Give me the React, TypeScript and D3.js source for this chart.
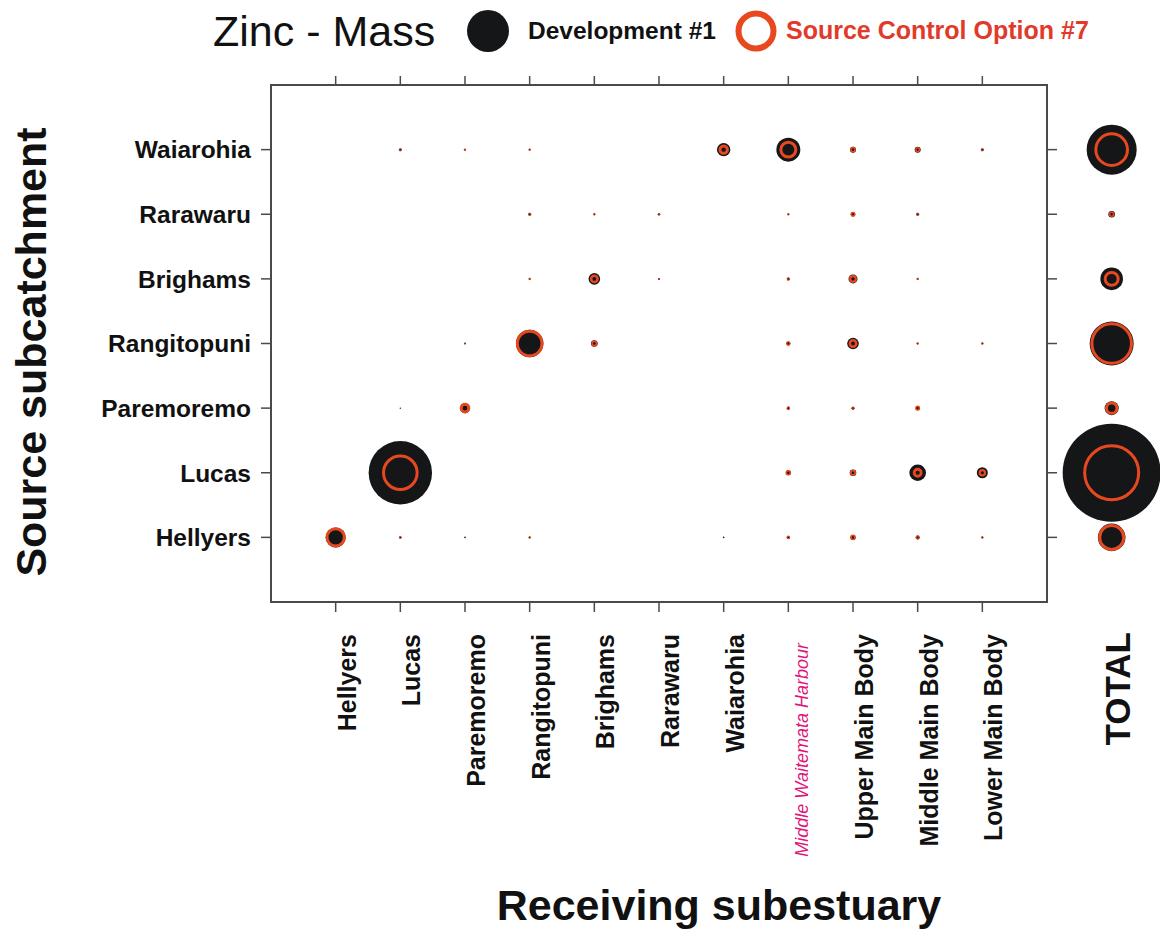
import React from "react";
import * as d3 from "d3";

// Receiving subestuaries (x axis, left to right)
const receiving = [
  "Hellyers",
  "Lucas",
  "Paremoremo",
  "Rangitopuni",
  "Brighams",
  "Rarawaru",
  "Waiarohia",
  "Middle Waitemata Harbour",
  "Upper Main Body",
  "Middle Main Body",
  "Lower Main Body",
];

// Source subcatchments (y axis, bottom to top)
const sources = ["Hellyers", "Lucas", "Paremoremo", "Rangitopuni", "Brighams", "Rarawaru", "Waiarohia"];

// Zinc mass (relative units) – Development #1, per source, across receiving subestuaries
const devHellyers = [100, 1.44, 0.64, 1, 0, 0, 0.64, 2.25, 6.25, 4, 1];
const devLucas = [0, 1005, 0, 0, 0, 0, 0, 6.25, 10.9, 69, 30.25];
const devParemoremo = [0, 0.49, 25, 0, 0, 0, 0, 2.25, 2.25, 4, 0];
const devRangitopuni = [0, 0, 1, 188, 10.9, 0, 0, 4, 33.6, 1, 1];
const devBrighams = [0, 0, 0, 1, 33.6, 1, 0, 2.25, 20.25, 1, 0];
const devRarawaru = [0, 0, 0, 2.25, 1, 1.44, 0, 1, 4.84, 2.25, 0];
const devWaiarohia = [0, 2.25, 1, 1, 0, 0, 45, 144, 9, 9, 2.25];

// Zinc mass – Source Control Option #7
const scHellyers = [75, 1, 0, 0.81, 0, 0, 0, 1.7, 4, 2.25, 0.81];
const scLucas = [0, 282, 0, 0, 0, 0, 0, 4, 4.84, 12.25, 7.3];
const scParemoremo = [0, 0, 14.4, 0, 0, 0, 0, 1.7, 1.44, 3.24, 0];
const scRangitopuni = [0, 0, 0.09, 151, 4.84, 0, 0, 2.56, 10.2, 0.64, 0.81];
const scBrighams = [0, 0, 0, 0.64, 10.2, 0.25, 0, 1.44, 7.84, 0.64, 0];
const scRarawaru = [0, 0, 0, 1, 0.81, 0.64, 0, 0.64, 3.24, 1, 0];
const scWaiarohia = [0, 1, 0.64, 0.64, 0, 0, 14, 56, 4, 3.2, 1];

// Totals per source (same order as sources)
const totalDev = [190, 2401, 49, 484, 128, 10.9, 625];
const totalSc = [144, 729, 27, 392, 42, 4, 250];

const devRows = [devHellyers, devLucas, devParemoremo, devRangitopuni, devBrighams, devRarawaru, devWaiarohia];
const scRows = [scHellyers, scLucas, scParemoremo, scRangitopuni, scBrighams, scRarawaru, scWaiarohia];

const FONT = "'Liberation Sans', Arial, Helvetica, sans-serif";
const BLACK = "#151618";
const ORANGE = "#e8481f";
const RED_TEXT = "#e23a2a";
const AXIS = "#4a4a4a";

export default function App() {
  const W = 1160;
  const H = 930;
  const left = 271;
  const right = 1047;
  const top = 85;
  const bottom = 602;

  const x = d3.scaleLinear().domain([0, receiving.length + 1]).range([left, right]);
  const y = d3.scaleLinear().domain([0, sources.length + 1]).range([bottom, top]);
  const r = d3.scaleSqrt().domain([0, 2500]).range([0, 50]);
  const totalX = x(receiving.length + 2);

  const ring = (v: number) => {
    const rr = r(v);
    const sw = Math.min(3, Math.max(0.9, rr * 0.8));
    return { rr, sw };
  };

  const cells: { cx: number; cy: number; dev: number; sc: number; key: string }[] = [];
  sources.forEach((s, si) => {
    receiving.forEach((rc, ri) => {
      cells.push({ cx: x(ri + 1), cy: y(si + 1), dev: devRows[si][ri], sc: scRows[si][ri], key: s + "-" + rc });
    });
  });

  return (
    <svg
      width={W}
      height={H}
      style={{ position: "absolute", left: 0, top: 0, background: "#fff" }}
      fontFamily={FONT}
    >
      {/* Title + legend */}
      <text x={213} y={46} fontSize={43} fill="#111">
        Zinc - Mass
      </text>
      <circle cx={488} cy={31} r={21} fill={BLACK} />
      <text x={528} y={39} fontSize={24.5} fontWeight="bold" fill="#111">
        Development #1
      </text>
      <circle cx={756} cy={31} r={17.5} fill="none" stroke={ORANGE} strokeWidth={6} />
      <text x={786} y={39} fontSize={25} fontWeight="bold" fill={RED_TEXT}>
        Source Control Option #7
      </text>

      {/* Frame */}
      <rect x={left} y={top} width={right - left} height={bottom - top} fill="none" stroke={AXIS} strokeWidth={2} />

      {/* X ticks top & bottom */}
      {receiving.map((rc, i) => (
        <g key={"xt" + rc}>
          <line x1={x(i + 1)} x2={x(i + 1)} y1={top} y2={top - 9} stroke={AXIS} strokeWidth={1.5} />
          <line x1={x(i + 1)} x2={x(i + 1)} y1={bottom} y2={bottom + 10} stroke={AXIS} strokeWidth={1.5} />
        </g>
      ))}
      {/* Y ticks left & right */}
      {sources.map((s, i) => (
        <g key={"yt" + s}>
          <line x1={left} x2={left - 10} y1={y(i + 1)} y2={y(i + 1)} stroke={AXIS} strokeWidth={1.5} />
          <line x1={right} x2={right + 10} y1={y(i + 1)} y2={y(i + 1)} stroke={AXIS} strokeWidth={1.5} />
        </g>
      ))}

      {/* Y tick labels */}
      {sources.map((s, i) => (
        <text
          key={"yl" + s}
          x={251}
          y={y(i + 1)}
          dy="0.36em"
          textAnchor="end"
          fontSize={24.5}
          fontWeight="bold"
          fill="#111"
        >
          {s}
        </text>
      ))}

      {/* X tick labels */}
      {receiving.map((rc, i) => {
        const special = rc === "Middle Waitemata Harbour";
        const bx = x(i + 1) + (special ? 20 : 20);
        const by = special ? 643 : 634;
        return (
          <text
            key={"xl" + rc}
            transform={`translate(${bx},${by}) rotate(-90)`}
            textAnchor="end"
            fontSize={special ? 18 : 25}
            fontWeight={special ? "normal" : "bold"}
            fontStyle={special ? "italic" : "normal"}
            fill={special ? "#e0157a" : "#111"}
          >
            {rc}
          </text>
        );
      })}
      <text
        transform={`translate(${totalX + 18},${632}) rotate(-90)`}
        textAnchor="end"
        fontSize={35}
        fontWeight="bold"
        fill="#111"
      >
        TOTAL
      </text>

      {/* Axis titles */}
      <text
        transform={`translate(${46},${352}) rotate(-90)`}
        textAnchor="middle"
        fontSize={43}
        fontWeight="bold"
        fill="#111"
      >
        Source subcatchment
      </text>
      <text x={719} y={920} textAnchor="middle" fontSize={43} fontWeight="bold" fill="#111">
        Receiving subestuary
      </text>

      {/* Bubbles */}
      {cells.map((c) => (
        <g key={c.key}>
          {c.dev > 0 && <circle cx={c.cx} cy={c.cy} r={r(c.dev)} fill={BLACK} />}
          {c.sc > 0 && (() => {
            const { rr, sw } = ring(c.sc);
            return <circle cx={c.cx} cy={c.cy} r={rr} fill="none" stroke={ORANGE} strokeWidth={sw} />;
          })()}
        </g>
      ))}

      {/* Totals */}
      {sources.map((s, i) => {
        const { rr, sw } = ring(totalSc[i]);
        return (
          <g key={"tot" + s}>
            <circle cx={totalX} cy={y(i + 1)} r={r(totalDev[i])} fill={BLACK} />
            <circle cx={totalX} cy={y(i + 1)} r={rr} fill="none" stroke={ORANGE} strokeWidth={sw} />
          </g>
        );
      })}
    </svg>
  );
}
